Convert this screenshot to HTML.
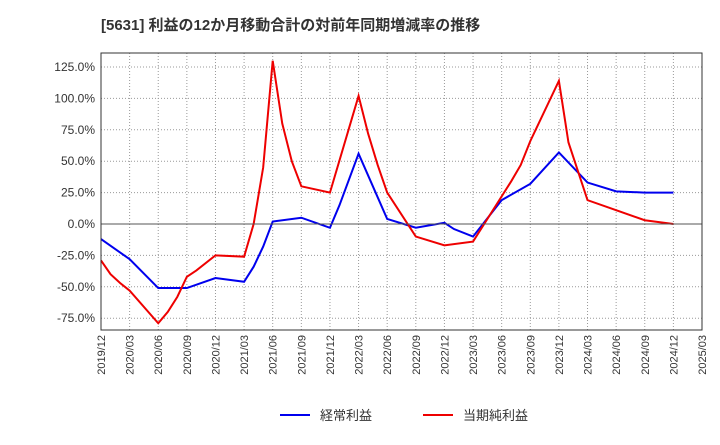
<!DOCTYPE html>
<html><head><meta charset="utf-8"><style>
body{margin:0;background:#fff;font-family:"Liberation Sans","Noto Sans CJK JP",sans-serif}
</style></head><body>
<svg id="c" width="720" height="440" xmlns="http://www.w3.org/2000/svg">
<text x="101" y="30" font-size="15" font-weight="bold" fill="#333" font-family="Liberation Sans,Noto Sans CJK JP,sans-serif">[5631]  利益の12か月移動合計の対前年同期増減率の推移</text>
<g id="grid"></g><g id="series"></g><g id="axes"></g>
<g>
<line x1="280" y1="415" x2="310" y2="415" stroke="#0000ee" stroke-width="2"/>
<text x="320" y="420" font-size="13" fill="#333">経常利益</text>
<line x1="423" y1="415" x2="453" y2="415" stroke="#ee0000" stroke-width="2"/>
<text x="463" y="420" font-size="13" fill="#333">当期純利益</text>
</g>
</svg>
<script>
const xLabels=["2019/12","2020/03","2020/06","2020/09","2020/12","2021/03","2021/06","2021/09","2021/12","2022/03","2022/06","2022/09","2022/12","2023/03","2023/06","2023/09","2023/12","2024/03","2024/06","2024/09","2024/12","2025/03"];
const yTicks=[-75,-50,-25,0,25,50,75,100,125];
const blueMonths=[0,3,6,9,12,15,16,17,18,21,24,25,27,30,33,36,37,39,42,45,48,51,54,57,60];
const blueVals=[-12,-28,-51,-51,-43,-46,-34,-18,2,5,-3,15,56,4,-3,1,-4,-10,19,32,57,33,26,25,25];
const redMonths=[0,1,2,3,6,7,8,9,10,12,15,16,17,18,19,20,21,24,27,28,29,30,33,36,39,42,43,44,45,48,49,51,54,57,60];
const redVals=[-29,-40,-47,-53,-79,-70,-58,-42,-37,-25,-26,0,45,130,80,50,30,25,102,72,47,25,-10,-17,-14,22,34,47,66,114,65,19,11,3,0];
const L=101,R=702,T=53,B=330;
const xs=m=>L+(R-L)*m/63;
const ys=v=>224-v*31.4/25;
const NS="http://www.w3.org/2000/svg";
function mk(p,t,a){const e=document.createElementNS(NS,t);for(const k in a)e.setAttribute(k,a[k]);p.appendChild(e);return e;}
const g=document.getElementById('grid'),ax=document.getElementById('axes'),s=document.getElementById('series');
yTicks.forEach(v=>{const l=mk(g,'line',{x1:L,x2:R,y1:ys(v),y2:ys(v),stroke:'#999','stroke-dasharray':'1,2'});

const t=mk(ax,'text',{x:L-6,y:ys(v)+4,'font-size':12,'text-anchor':'end',fill:'#333'});t.textContent=v.toFixed(1)+'%';
});
xLabels.forEach((lb,i)=>{const x=xs(i*3);const l=mk(g,'line',{x1:x,x2:x,y1:T,y2:B,stroke:'#999','stroke-dasharray':'1,2'});

const t=mk(ax,'text',{x:0,y:0,'font-size':11,'text-anchor':'end',fill:'#333',transform:`translate(${x+4},${B+5}) rotate(-90)`});t.textContent=lb;
});
const z=mk(ax,'line',{x1:L,x2:R,y1:ys(0),y2:ys(0),stroke:'#555','stroke-width':1});

const f=mk(ax,'rect',{x:L,y:T,width:R-L,height:B-T,fill:'none',stroke:'#333'});

function line(ms,vs,c,n){const p=mk(s,'polyline',{points:ms.map((m,i)=>xs(m)+','+ys(vs[i])).join(' '),fill:'none',stroke:c,'stroke-width':2});
}
line(blueMonths,blueVals,'#0000ee','ordinary-profit-line');
line(redMonths,redVals,'#ee0000','net-profit-line');
</script>
</body></html>
